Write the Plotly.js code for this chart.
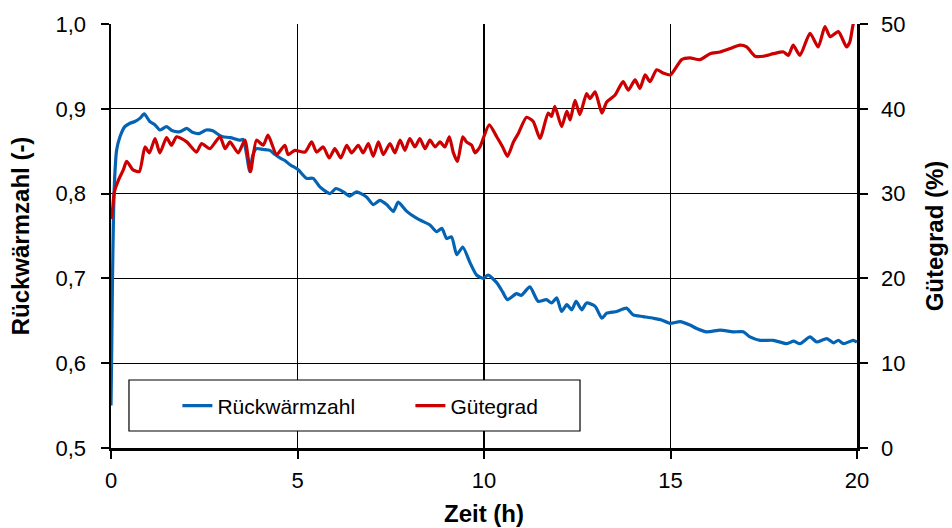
<!DOCTYPE html>
<html>
<head>
<meta charset="utf-8">
<script src="https://cdn.plot.ly/plotly-3.0.1.min.js"></script>
<style>
html,body{margin:0;padding:0;background:#fff;}
#chart{width:952px;height:528px;}
</style>
</head>
<body>
<div id="chart"></div>
<script>
// Rückwärmzahl (-) over time (h)
var zeitR = [0.00,0.02,0.04,0.07,0.10,0.15,0.24,0.37,0.51,0.64,0.78,0.89,1.04,1.18,1.31,1.49,1.65,1.85,2.03,2.20,2.38,2.55,2.73,2.90,3.00,3.20,3.46,3.54,3.62,3.72,3.80,3.90,4.08,4.26,4.40,4.53,4.66,4.80,4.88,5.02,5.24,5.42,5.60,5.87,6.03,6.23,6.40,6.58,6.85,7.03,7.21,7.39,7.57,7.70,7.93,8.19,8.37,8.55,8.73,8.87,9.00,9.13,9.27,9.43,9.63,9.80,9.98,10.11,10.34,10.50,10.63,10.87,11.00,11.23,11.45,11.67,11.81,11.95,12.08,12.22,12.35,12.47,12.62,12.75,12.98,13.16,13.29,13.56,13.82,14.00,14.27,14.54,14.76,14.99,15.26,15.52,15.70,15.97,16.33,16.68,16.95,17.13,17.40,17.76,18.12,18.30,18.47,18.74,18.92,19.19,19.37,19.50,19.64,19.90,20.00];
var rueckwaermzahl = [0.55,0.62,0.70,0.78,0.82,0.851,0.867,0.879,0.883,0.885,0.889,0.894,0.885,0.881,0.875,0.879,0.874,0.873,0.877,0.872,0.871,0.875,0.874,0.869,0.867,0.866,0.863,0.864,0.850,0.826,0.845,0.853,0.852,0.851,0.846,0.842,0.839,0.834,0.832,0.828,0.818,0.818,0.808,0.800,0.806,0.802,0.797,0.802,0.796,0.787,0.792,0.787,0.779,0.790,0.779,0.771,0.767,0.763,0.755,0.759,0.747,0.749,0.728,0.737,0.718,0.704,0.700,0.704,0.695,0.684,0.675,0.682,0.680,0.690,0.673,0.675,0.671,0.677,0.661,0.669,0.663,0.673,0.663,0.671,0.667,0.653,0.659,0.661,0.665,0.657,0.655,0.653,0.651,0.647,0.649,0.645,0.641,0.637,0.639,0.637,0.637,0.631,0.627,0.627,0.623,0.626,0.623,0.631,0.625,0.629,0.624,0.627,0.623,0.627,0.625];

// Gütegrad (%) over time (h)
var zeitG = [0.00,0.04,0.09,0.20,0.33,0.42,0.59,0.76,0.91,1.03,1.18,1.31,1.49,1.62,1.76,2.03,2.29,2.43,2.65,2.92,3.06,3.19,3.41,3.59,3.74,3.90,4.08,4.21,4.44,4.66,4.75,4.93,5.20,5.38,5.51,5.69,5.85,6.00,6.16,6.32,6.45,6.63,6.76,6.90,7.03,7.17,7.30,7.48,7.61,7.75,7.88,8.01,8.15,8.28,8.42,8.55,8.69,8.82,8.95,9.07,9.18,9.29,9.43,9.53,9.67,9.76,9.89,10.14,10.34,10.50,10.63,10.79,10.92,11.14,11.32,11.50,11.72,11.81,11.90,12.08,12.22,12.31,12.44,12.57,12.75,12.84,12.98,13.16,13.29,13.51,13.73,13.87,14.05,14.18,14.32,14.45,14.63,14.81,15.00,15.30,15.52,15.79,16.06,16.33,16.60,16.86,17.04,17.27,17.49,17.76,18.03,18.16,18.29,18.47,18.74,18.96,19.14,19.28,19.50,19.72,19.81,19.90,19.97];
var guetegrad = [27.0,28.1,30.2,31.6,32.8,33.8,32.8,32.6,35.5,34.8,36.5,34.8,36.6,35.7,36.7,36.1,34.9,35.9,35.3,36.7,35.3,36.1,34.8,36.3,32.6,36.3,35.7,36.9,34.6,35.7,34.6,35.1,34.9,36.1,34.9,35.5,34.2,35.3,34.2,35.7,34.8,35.7,34.8,35.9,34.4,36.1,34.6,35.9,34.8,36.3,35.1,36.5,35.5,36.5,35.3,36.3,35.5,36.1,35.5,36.7,34.8,33.8,36.7,36.1,35.7,34.8,35.5,38.1,36.7,35.5,34.4,36.1,37.1,39.0,38.5,36.5,39.5,39.1,40.3,37.9,39.7,38.7,41.0,39.3,41.8,41.2,42.0,39.5,40.8,41.6,43.2,42.2,43.4,42.4,44.0,43.2,44.6,44.2,44.0,45.8,46.0,45.8,46.5,46.7,47.1,47.5,47.3,46.2,46.2,46.5,46.7,46.3,47.5,46.3,48.9,47.3,49.7,48.5,49.1,47.3,47.9,50.0,50.6];

var xTicks = [0,5,10,15,20];
var yTicks = [0.5,0.6,0.7,0.8,0.9,1.0];
var y2Ticks = [0,10,20,30,40,50];

var FONT = 'Liberation Sans, Arial, sans-serif';

var traces = [
  {x: zeitR, y: rueckwaermzahl, name: 'Rückwärmzahl', type: 'scatter', mode: 'lines',
   line: {color: '#0563b4', width: 3.2, shape: 'spline', smoothing: 0.6}, yaxis: 'y'},
  {x: zeitG, y: guetegrad, name: 'Gütegrad', type: 'scatter', mode: 'lines',
   line: {color: '#cc0000', width: 3.2, shape: 'spline', smoothing: 0.6}, yaxis: 'y2'}
];

var layout = {
  width: 952, height: 528,
  margin: {l: 111, r: 95, t: 24, b: 80, pad: 0},
  paper_bgcolor: '#fff', plot_bgcolor: '#fff',
  separators: ',.',
  font: {family: FONT, color: '#000', size: 22},
  showlegend: true,
  legend: {
    orientation: 'h', x: 0.089, y: 0.099, xanchor: 'left', yanchor: 'middle',
    bgcolor: 'rgba(0,0,0,0)', borderwidth: 0,
    font: {family: FONT, size: 21, color: '#000'},
    entrywidth: 188,
    traceorder: 'normal'
  },
  shapes: [{
    type: 'rect', xref: 'paper', yref: 'paper',
    x0: 0.0241, x1: 0.6287, y0: 0.0401, y1: 0.1604,
    fillcolor: '#fff', line: {color: '#000', width: 1.2}, layer: 'above'
  }],
  xaxis: {
    range: [0, 20], tickvals: xTicks, ticktext: xTicks.map(String),
    showgrid: true, gridcolor: '#000', gridwidth: 1.2, zeroline: false,
    showline: true, linecolor: '#000', linewidth: 2.5,
    ticks: 'outside', ticklen: 8, tickwidth: 2, tickcolor: '#000',
    ticklabelstandoff: 3,
    tickfont: {family: FONT, size: 22},
    title: {text: '<b>Zeit (h)</b>', font: {family: FONT, size: 24}, standoff: 14},
    fixedrange: true
  },
  yaxis: {
    range: [0.5, 1.0], tickvals: yTicks, tickformat: '.1f',
    showgrid: true, gridcolor: '#000', gridwidth: 1.2, zeroline: false,
    showline: true, linecolor: '#000', linewidth: 2.5,
    ticks: 'outside', ticklen: 8, tickwidth: 2, tickcolor: '#000',
    ticklabelstandoff: 10,
    tickfont: {family: FONT, size: 22},
    title: {text: '<b>Rückwärmzahl (-)</b>', font: {family: FONT, size: 24}, standoff: 19},
    fixedrange: true
  },
  yaxis2: {
    range: [0, 50], tickvals: y2Ticks, overlaying: 'y', side: 'right',
    showgrid: false, zeroline: false,
    showline: true, linecolor: '#000', linewidth: 2.5,
    ticks: 'outside', ticklen: 8, tickwidth: 2, tickcolor: '#000',
    ticklabelstandoff: 9,
    tickfont: {family: FONT, size: 22},
    title: {text: '<b>Gütegrad (%)</b>', font: {family: FONT, size: 24}, standoff: 22},
    fixedrange: true
  }
};

Plotly.newPlot('chart', traces, layout, {displayModeBar: false, staticPlot: true});
</script>
</body>
</html>
